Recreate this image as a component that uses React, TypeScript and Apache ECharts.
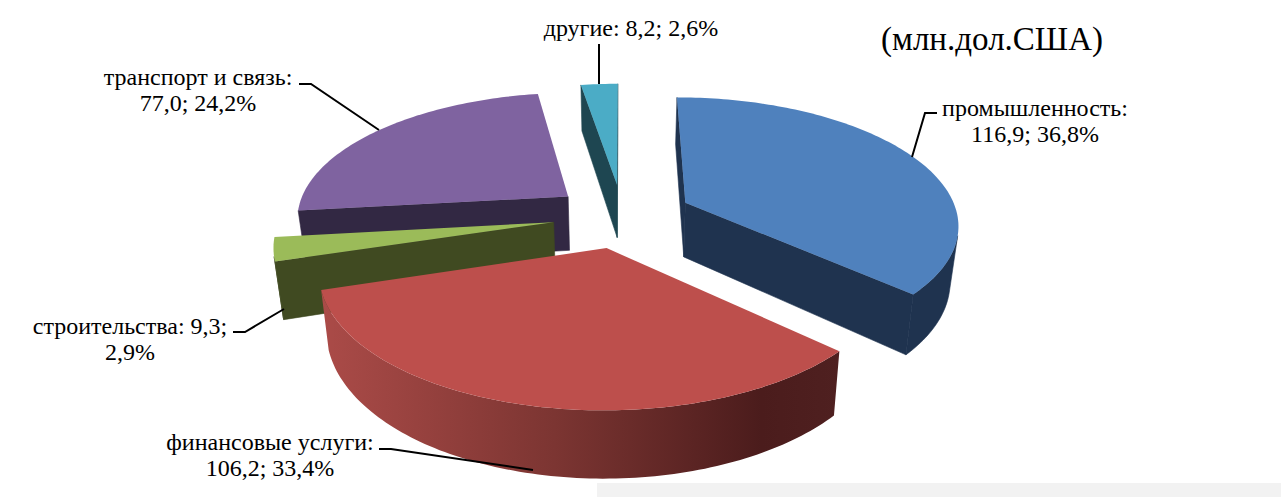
import React, { useEffect, useRef } from "react";
import * as echarts from "echarts";

const categories = ["промышленность", "финансовые услуги", "строительства", "транспорт и связь", "другие"];
const seriesValues = [116.9, 106.2, 9.3, 77.0, 8.2];
const percents = [36.8, 33.4, 2.9, 24.2, 2.6];
const topColors = ["#4f81bd", "#bd4f4c", "#9bbb59", "#7f63a0", "#4bacc6"];
const wallColors = ["#1f334f", "#4b1e1e", "#404a21", "#322843", "#1e4651"];
const titleText = "(млн.дол.США)";

// Projection of the tilted pie
const CX = 622.5, CY = 215.5, RX = 272.5, RY = 125.5, DEPTH = 55, PERSP = 0.156, EXPLODE = 0.256, SHRINK = 0.025;

const W = 1281, H = 497;
const FONT = '"Liberation Serif", "Times New Roman", serif';
const total = seriesValues.reduce((a, b) => a + b, 0);
const starts: number[] = [];
seriesValues.reduce((acc, v, i) => { starts[i] = acc; return acc + v; }, 0);

function project(X: number, Y: number, z: number): number[] {
  const s = 1 / (1 + PERSP * Y);
  return [CX + RX * X * s * (1 - SHRINK * z), CY + (-Y * RY + z * DEPTH) * s];
}
function area(pts: number[][]): number {
  let a = 0;
  pts.forEach((p, i) => { const q = pts[(i + 1) % pts.length]; a += p[0] * q[1] - q[0] * p[1]; });
  return a;
}

function sliceChildren(i: number, value: number) {
  const a0 = (starts[i] / total) * 2 * Math.PI;
  const a1 = ((starts[i] + value) / total) * 2 * Math.PI;
  const mid = (a0 + a1) / 2;
  const ox = EXPLODE * Math.sin(mid), oy = EXPLODE * Math.cos(mid);
  const rim = (a: number, z: number) => project(ox + Math.sin(a), oy + Math.cos(a), z);
  const center = (z: number) => project(ox, oy, z);
  const steps = Math.max(6, Math.ceil((a1 - a0) / 0.02));
  const angles: number[] = [];
  for (let k = 0; k <= steps; k++) angles.push(a0 + ((a1 - a0) * k) / steps);

  const children: any[] = [];
  const poly = (pts: number[][], fill: any, stroke: string = "none") =>
    children.push({ type: "polygon", shape: { points: pts }, style: { fill, stroke, lineWidth: stroke === "none" ? 0 : 0.6 } });

  const wallFill = wallColors[i];
  const startWall = [center(0), rim(a0, 0), rim(a0, 1), center(1)];
  const endWall = [rim(a1, 0), center(0), center(1), rim(a1, 1)];
  if (area(startWall) < 0) poly(startWall, wallFill, wallFill);
  if (area(endWall) < 0) poly(endWall, wallFill, wallFill);

  // outer wall: contiguous front-facing runs
  let run: number[] = [];
  const flush = () => {
    if (run.length > 1) {
      const top = run.map((a) => rim(a, 0));
      const bottom = run.map((a) => rim(a, 1)).reverse();
      if (i === 1) {
        poly(top.concat(bottom), new echarts.graphic.LinearGradient(0, 0, 1, 0, [
          { offset: 0, color: "#ab4b48" },
          { offset: 0.45, color: "#7c3532" },
          { offset: 0.85, color: "#4b1c1c" },
          { offset: 1, color: "#4f2020" },
        ]));
      } else {
        poly(top.concat(bottom), wallFill, wallFill);
      }
    }
    run = [];
  };
  for (let k = 0; k < steps; k++) {
    const q = [rim(angles[k], 0), rim(angles[k + 1], 0), rim(angles[k + 1], 1), rim(angles[k], 1)];
    if (area(q) < 0) {
      if (!run.length) run.push(angles[k]);
      run.push(angles[k + 1]);
    } else flush();
  }
  flush();

  poly([center(0)].concat(angles.map((a) => rim(a, 0))), topColors[i]);
  return children;
}

const fmt = (n: number) => n.toFixed(1).replace(".", ",");
function labelText(i: number) {
  const name = categories[i], v = fmt(seriesValues[i]), p = fmt(percents[i]) + "%";
  if (i === 4) return `${name}: ${v}; ${p}`;
  if (i === 2) return `${name}: ${v};\n${p}`;
  return `${name}:\n${v}; ${p}`;
}
// label layout by category index
const labelPos = [[1035, 121], [270, 455], [130, 339], [198, 90], [631, 28]];
const leaders = [
  [[937, 113], [925, 113], [912, 157]],
  [[379, 449], [391, 449], [533, 470]],
  [[233, 332], [245, 332], [284, 309]],
  [[299, 84], [311, 84], [379, 130]],
  [[599, 44], [599, 84]],
];

export default function App() {
  const ref = useRef<HTMLDivElement>(null);
  useEffect(() => {
    document.body.style.margin = "0";
    const chart = echarts.init(ref.current!, undefined, { renderer: "svg" });
    const order = categories
      .map((_, i) => i)
      .sort((a, b) => {
        const m = (k: number) => Math.cos(((starts[k] + seriesValues[k] / 2) / total) * 2 * Math.PI);
        return m(b) - m(a);
      });
    chart.setOption({
      animation: false,
      backgroundColor: "#ffffff",
      series: [
        {
          type: "custom",
          coordinateSystem: "none",
          silent: true,
          z: 2,
          data: order.map((i) => ({ name: categories[i], value: [seriesValues[i], i] })),
          renderItem: (_p: any, api: any) => ({
            type: "group",
            children: sliceChildren(api.value(1), api.value(0)),
          }),
        },
      ],
      graphic: [
        { type: "rect", z: 1, shape: { x: 597, y: 483, width: 684, height: 14 }, style: { fill: "#f2f2f2" } },
        ...leaders.map((pts) => ({
          type: "polyline",
          z: 10,
          shape: { points: pts },
          style: { stroke: "#000000", lineWidth: 2, fill: "none" },
        })),
        ...categories.map((_, i) => ({
          type: "text",
          z: 11,
          x: labelPos[i][0],
          y: labelPos[i][1],
          style: {
            text: labelText(i),
            font: `24px ${FONT}`,
            lineHeight: 26,
            fill: "#000000",
            align: "center",
            verticalAlign: "middle",
          },
        })),
        {
          type: "text",
          z: 11,
          x: 992,
          y: 39,
          style: { text: titleText, font: `33px ${FONT}`, fill: "#000000", align: "center", verticalAlign: "middle" },
        },
      ],
    });
    return () => chart.dispose();
  }, []);
  return <div ref={ref} style={{ width: W, height: H, position: "absolute", left: 0, top: 0 }} />;
}
